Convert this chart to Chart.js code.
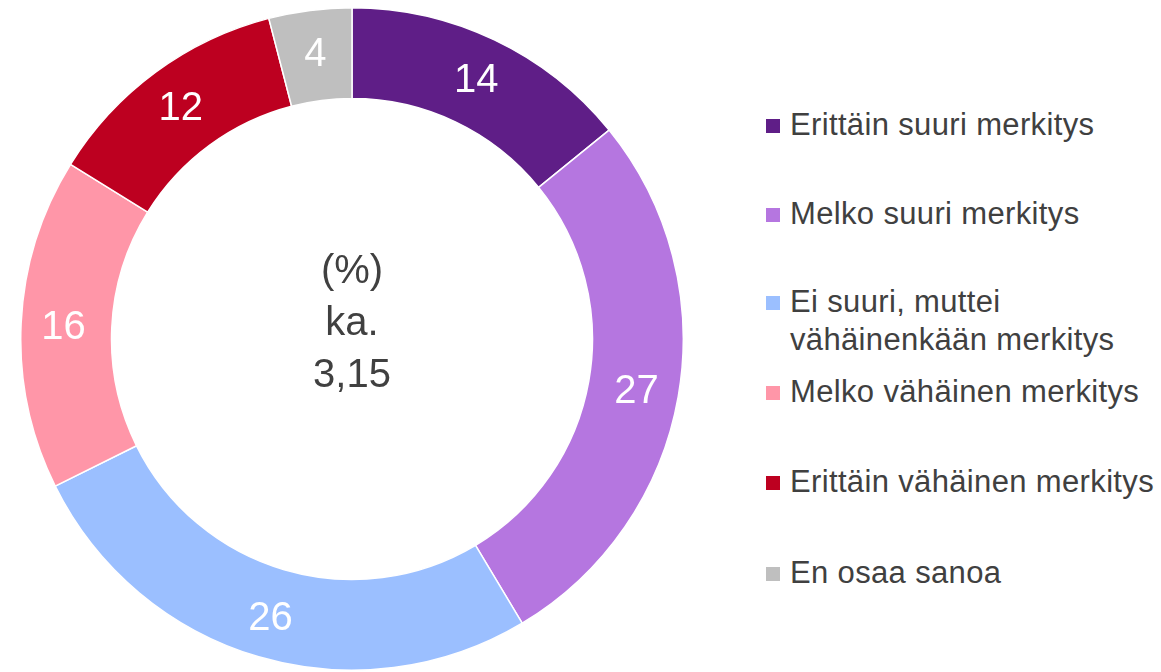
<!DOCTYPE html>
<html>
<head>
<meta charset="utf-8">
<script src="https://cdn.jsdelivr.net/npm/chart.js@4/dist/chart.umd.min.js"></script>
<style>
  body { margin: 0; background: #fff; width: 1161px; height: 672px; overflow: hidden; position: relative; font-family: "Liberation Sans", Arial, sans-serif; }
  #wrap { position: absolute; left: 20px; top: 7px; width: 664px; height: 664px; }
  #legend { position: absolute; left: 766px; top: 0; }
  .item { position: absolute; left: 0; display: flex; align-items: flex-start; white-space: nowrap; font-size: 31px; letter-spacing: 0.35px; line-height: 38px; color: #404040; }
  .box { width: 14px; height: 14px; margin-top: 13px; margin-right: 10px; flex: none; }
</style>
</head>
<body>
<div id="wrap"><canvas id="donut"></canvas></div>
<div id="legend"></div>
<script>
  // Chart data
  const categories = ['Erittäin suuri merkitys', 'Melko suuri merkitys', 'Ei suuri, muttei\nvähäinenkään merkitys', 'Melko vähäinen merkitys', 'Erittäin vähäinen merkitys', 'En osaa sanoa'];
  const values = [14, 27, 26, 16, 12, 4];
  const colors = ['#5F1E87', '#B576E0', '#9BBFFF', '#FF96A8', '#BD0020', '#BFBFBF'];
  const centerLines = ['(%)', 'ka.', '3,15'];

  // Legend (HTML so the two-line label wraps like the original)
  const legendTops = [106, 195, 283, 373, 463, 554];
  categories.forEach((name, i) => {
    const row = document.createElement('div');
    row.className = 'item';
    row.style.top = legendTops[i] + 'px';
    row.innerHTML = `<span class="box" style="background:${colors[i]}"></span><span>${name.replace('\n', '<br>')}</span>`;
    document.getElementById('legend').appendChild(row);
  });

  // Value labels inside segments + center text
  const labelPlugin = {
    id: 'labels',
    afterDatasetsDraw(chart) {
      const ctx = chart.ctx;
      const meta = chart.getDatasetMeta(0);
      ctx.save();
      ctx.textAlign = 'center';
      ctx.textBaseline = 'alphabetic';
      ctx.fillStyle = '#fff';
      ctx.font = '40px "Liberation Sans", Arial, sans-serif';
      meta.data.forEach((arc, i) => {
        const a = (arc.startAngle + arc.endAngle) / 2;
        const r = (arc.innerRadius + arc.outerRadius) / 2 + 3;
        const x = arc.x + Math.cos(a) * r;
        const y = arc.y + Math.sin(a) * r;
        ctx.fillText(String(values[i]), x, y + 14);
      });
      ctx.fillStyle = '#404040';
      ctx.font = '40px "Liberation Sans", Arial, sans-serif';
      const cy = meta.data[0].y;
      const cx = meta.data[0].x;
      centerLines.forEach((t, i) => {
        ctx.fillText(t, cx, cy - 4 + (i - 1) * 52);
      });
      ctx.restore();
    }
  };

  new Chart(document.getElementById('donut').getContext('2d'), {
    type: 'doughnut',
    data: {
      labels: categories,
      datasets: [{
        data: values,
        backgroundColor: colors,
        borderColor: '#fff',
        borderWidth: 1.5
      }]
    },
    options: {
      responsive: true,
      maintainAspectRatio: false,
      animation: false,
      cutout: '72.6%',
      layout: { padding: 0 },
      plugins: {
        legend: { display: false },
        tooltip: { enabled: false }
      }
    },
    plugins: [labelPlugin]
  });
</script>
</body>
</html>
